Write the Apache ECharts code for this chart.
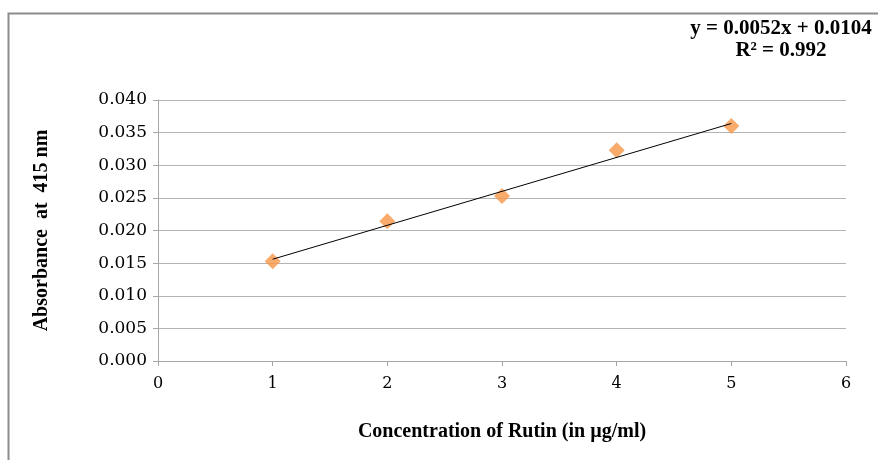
<!DOCTYPE html>
<html><head><meta charset="utf-8">
<script src="https://cdn.jsdelivr.net/npm/echarts@6/dist/echarts.min.js"></script>
<style>html,body{margin:0;padding:0;background:#fff}#c{width:878px;height:460px}</style>
</head><body><div id="c"></div>
<script>
const concentrations = [1, 2, 3, 4, 5];
const absorbance = [0.0153, 0.0214, 0.0253, 0.0323, 0.0360];
const trendX = [1, 5];
const trendY = [0.0156, 0.0364];
const yTickLabels = ['0.000','0.005','0.010','0.015','0.020','0.025','0.030','0.035','0.040'];
const equationText = 'y = 0.0052x + 0.0104';
const r2Text = 'R² = 0.992';

const titleFont = '"Liberation Serif", "DejaVu Serif", serif';
const tickFont = '"DejaVu Serif", "Liberation Serif", serif';
const chart = echarts.init(document.getElementById('c'), null, {renderer: 'canvas'});
chart.setOption({
  animation: false,
  backgroundColor: '#fff',
  grid: {left: 158, right: 32, top: 100, bottom: 99},
  xAxis: {
    type: 'value', min: 0, max: 6, interval: 1,
    name: 'Concentration of Rutin (in µg/ml)', nameLocation: 'middle', nameGap: 61,
    nameTextStyle: {fontFamily: titleFont, fontWeight: 'bold', fontSize: 20, color: '#000'},
    axisLine: {show: true, lineStyle: {color: '#a6a6a6', width: 1}},
    axisTick: {show: true, length: 5, lineStyle: {color: '#a6a6a6'}},
    axisLabel: {fontFamily: tickFont, fontSize: 16, color: '#000', margin: 15},
    splitLine: {show: false}
  },
  yAxis: {
    type: 'value', min: 0, max: 0.04, interval: 0.005,
    name: 'Absorbance  at  415 nm', nameLocation: 'middle', nameGap: 106, nameRotate: 90,
    nameTextStyle: {fontFamily: titleFont, fontWeight: 'bold', fontSize: 20, color: '#000'},
    axisLine: {show: true, lineStyle: {color: '#a6a6a6', width: 1}},
    axisTick: {show: true, length: 5, lineStyle: {color: '#a6a6a6'}},
    axisLabel: {fontFamily: tickFont, fontSize: 17, color: '#000', margin: 11,
      formatter: (v) => yTickLabels[Math.round(v / 0.005)]},
    splitLine: {show: true, lineStyle: {color: '#b3b3b3', width: 1}}
  },
  graphic: [
    {type: 'polyline', shape: {points: [[8.5, 460], [8.5, 13.5], [878, 13.5]]},
     style: {stroke: '#8c8c8c', lineWidth: 2, fill: null}},
    {type: 'text', x: 781, y: 18,
     style: {text: equationText + '\n' + r2Text, fontFamily: titleFont, fontWeight: 'bold', fontSize: 21,
       fill: '#000', align: 'center', lineHeight: 22}}
  ],
  series: [
    {type: 'line', data: trendX.map((x, i) => [x, trendY[i]]), symbol: 'none',
     lineStyle: {color: '#000', width: 1}, z: 3},
    {type: 'scatter', data: concentrations.map((x, i) => [x, absorbance[i]]),
     symbol: 'diamond', symbolSize: [16, 16],
     itemStyle: {color: '#f79646'}, z: 2}
  ]
});
</script></body></html>
